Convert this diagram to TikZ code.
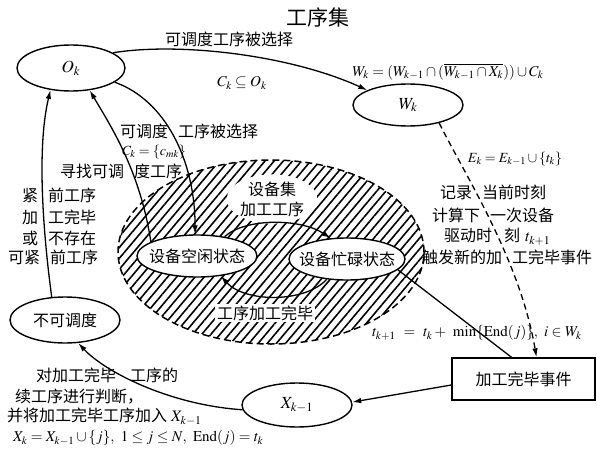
\documentclass[tikz,border=0pt]{standalone}
\usepackage{mathptmx}
\usepackage{fontspec}
\newfontfamily\cjk{Noto Sans CJK SC}
\usetikzlibrary{arrows.meta,shapes.geometric,patterns.meta,calc}
\begin{document}
\begin{tikzpicture}[x=1pt,y=-1pt,
  ell/.style={draw, line width=1.4pt, shape=ellipse, inner sep=0pt, fill=white},
  arr/.style={line width=1.3pt, -{Latex[length=9pt,width=5.5pt]}},
  cn/.style={font=\cjk\fontsize{16}{20}\selectfont, inner sep=0pt},
  mth/.style={font=\fontsize{15}{17}\selectfont, inner sep=0pt},
  mths/.style={font=\fontsize{14}{16}\selectfont, inner sep=0pt},
  mthb/.style={font=\fontsize{17}{19}\selectfont}]
\useasboundingbox (0,0) rectangle (597,455);
% hatched region
\fill[pattern={Lines[angle=50,distance=7pt,line width=1.6pt]}] (271,252) ellipse [x radius=153pt, y radius=92pt];
\draw[line width=1.5pt, dash pattern=on 7pt off 4pt] (271,252) ellipse [x radius=153pt, y radius=92pt];
\node[cn, shape=ellipse, fill=white, inner sep=0pt, align=center] (lset) at (272,199) {设备集\\加工工序};
\node[cn, fill=white, inner sep=2pt] (ldone) at (265,313) {工序加工完毕};
% state nodes
\node[ell, mthb, minimum width=108pt, minimum height=46pt] (ok) at (71,68) {\makebox[0pt]{$O_k$}};
\node[ell, mthb, minimum width=110pt, minimum height=42pt] (wk) at (408,105) {\makebox[0pt]{$W_k$}};
\node[ell, mthb, minimum width=110pt, minimum height=44pt] (xk) at (297,405) {\makebox[0pt]{$X_{k-1}$}};
\node[ell, cn, minimum width=110pt, minimum height=46pt] (nk) at (65,320) {\makebox[0pt]{不可调度}};
\node[ell, cn, minimum width=120pt, minimum height=42pt] (kx) at (197,256) {\makebox[0pt]{设备空闲状态}};
\node[ell, cn, minimum width=116pt, minimum height=42pt] (bz) at (347,259) {\makebox[0pt]{设备忙碌状态}};
\node[draw, line width=1.4pt, fill=white, cn, minimum width=143pt, minimum height=42pt] (box) at (523.5,379) {加工完毕事件};
% labels
\node[cn, font=\cjk\fontsize{21}{24}\selectfont] (title) at (318,17) {工序集};
\node[cn] (lsel) at (229,39) {可调度工序被选择};
\node[mth] (lck) at (242,83) {$C_k\subseteq O_k$};
\node[mth] (lwk) at (448,72) {$W_k=(W_{k-1}\cap(\overline{W_{k-1}\cap X_k}))\cup C_k$};
\node[mths] (lek) at (515,159) {$E_k=E_{k-1}\cup\{t_k\}$};
\node[cn, anchor=west] (r1) at (440,192) {记录\hspace{10pt}当前时刻};
\node[cn, anchor=west] (r2) at (432,215) {计算下\hspace{10pt}一次设备};
\node[cn, anchor=west] (r3) at (444,237) {驱动时\hspace{12pt}刻\hspace{5pt}$t_{k+1}$};
\node[cn, anchor=west] (r4) at (422,257) {触发新的加\hspace{10pt}工完毕事件};
\node[cn, anchor=west] (l1) at (22,195) {紧\hspace{10pt}前工序};
\node[cn, anchor=west] (l2) at (22,217) {加\hspace{10pt}工完毕};
\node[cn, anchor=west] (l3) at (22,238) {或\hspace{10pt}不存在};
\node[cn, anchor=west] (l4) at (8,257) {可紧\hspace{10pt}前工序};
\node[cn, anchor=west] (lfind) at (60,171) {寻找可调\hspace{10pt}度工序};
\node[cn, anchor=west] (lsel2) at (120,131) {可调度\hspace{10pt}工序被选择};
\node[mths, anchor=west] (lcmk) at (122,152) {$C_k=\{c_{mk}\}$};
\node[mth, anchor=west] (ltk) at (372,333) {$t_{k+1}\ =\ t_k+\ \min\{\mathrm{End}(j)\},\ i\in W_k$};
\node[cn, anchor=west] (b1) at (36,375) {对加工完毕\hspace{14pt}工序的};
\node[cn, anchor=west] (b2) at (15,397) {续工序进行判断，};
\node[cn, anchor=west] (b3) at (7,417) {并将加工完毕工序加入\hspace{4pt}$X_{k-1}$};
\node[mth, anchor=west] (b4) at (13,438) {$X_k=X_{k-1}\cup\{j\},\ 1\le j\le N,\ \mathrm{End}(j)=t_k$};
% connectors
\draw[arr] (ok.20) .. controls (180,42) and (290,55) .. (wk.160);
\draw[arr, dash pattern=on 6pt off 4pt] (wk.-30) .. controls (465,175) and (520,260) .. ($(box.north)+(13,0)$);
\draw[line width=1.3pt] (bz.-12) -- ($(box.north)+(-12,0)$);
\draw[arr] ($(box.west)+(0,6)$) -- (xk.3);
\draw[arr] (xk.185) .. controls (170,405) and (105,372) .. (nk.-60);
\draw[arr] (nk.120) .. controls (44,240) and (36,150) .. (ok.-133);
\draw[arr] (kx.163) .. controls (140,170) and (110,125) .. (ok.-50);
\draw[arr] (ok.-18) .. controls (165,100) and (195,160) .. (kx.95);
\draw[arr] (kx.35) .. controls (245,218) and (300,218) .. (bz.128);
\draw[arr] (bz.-135) .. controls (305,303) and (245,303) .. (kx.-40);
\end{tikzpicture}
\end{document}
